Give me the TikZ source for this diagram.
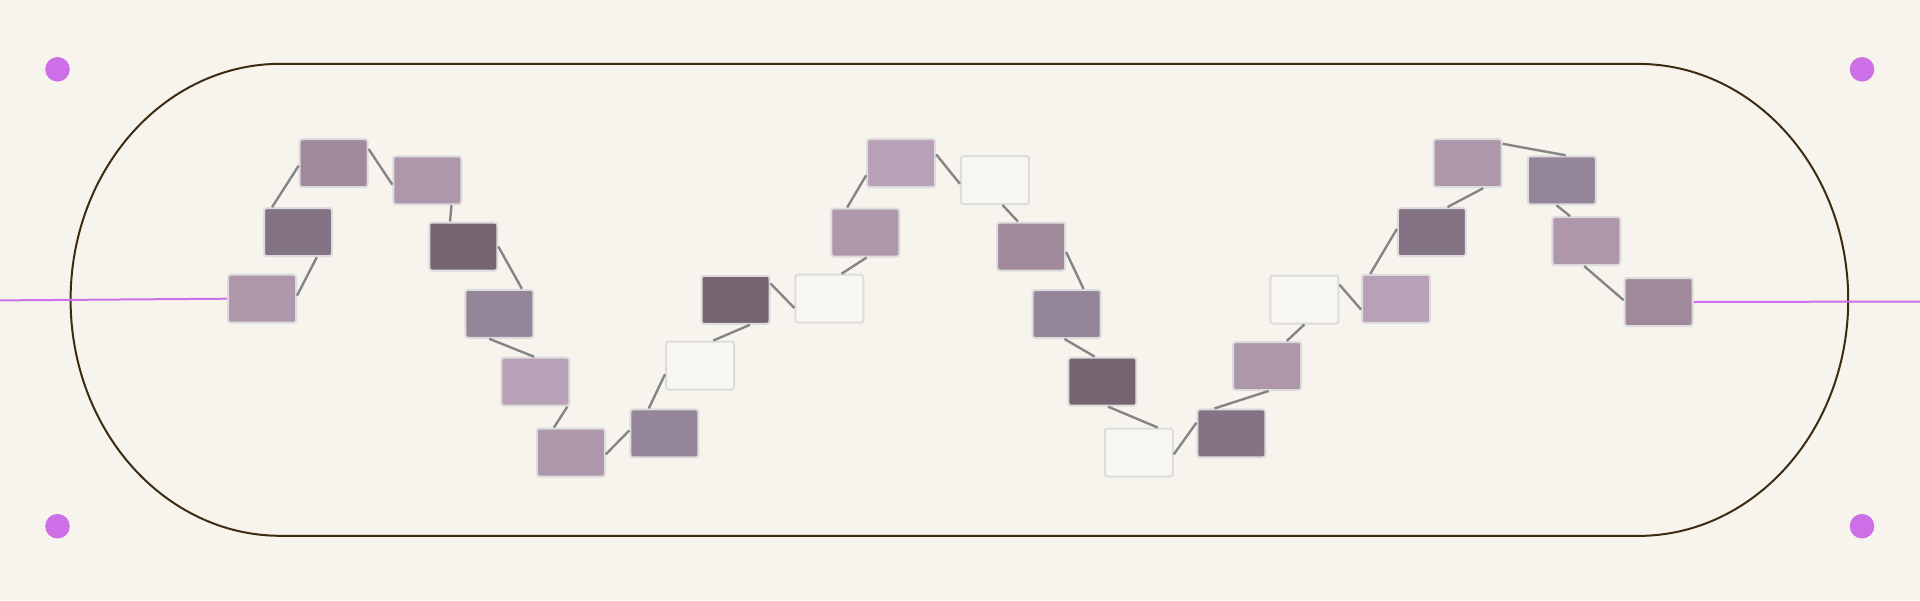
\documentclass[tikz,border=0pt]{standalone}
\usepackage{tikz}
\definecolor{bg}{HTML}{F7F4EE}
\definecolor{frame}{HTML}{3D2B12}
\definecolor{mag}{HTML}{CD6FE6}
\definecolor{conn}{HTML}{858585}
\definecolor{bord}{HTML}{DCDCDC}
\definecolor{ca}{HTML}{AE97AB}
\definecolor{cb}{HTML}{847385}
\definecolor{cc}{HTML}{9F899B}
\definecolor{cd}{HTML}{766570}
\definecolor{ce}{HTML}{958599}
\definecolor{cf}{HTML}{B8A0B7}
\definecolor{cw}{HTML}{F8F6F0}
\tikzset{
  box/.style={rectangle, draw=bord, line width=2pt, rounded corners=2.5pt, minimum width=68pt, minimum height=48pt, inner sep=0pt, fill=#1},
  link/.style={draw=conn, line width=2.4pt},
  magline/.style={draw=mag, line width=2pt},
  dot/.style={circle, fill=mag, minimum size=24.6pt, inner sep=0pt},
}
\begin{document}
\begin{tikzpicture}[x=1pt,y=-1pt]
\fill[bg] (0,0) rectangle (1920,600);
\useasboundingbox (0,0) rectangle (1920,600);
% frame
\draw[frame, line width=2pt] (280.6,63.9) -- (1638.2,63.9)
  arc[start angle=-90, end angle=90, x radius=210, y radius=236]
  -- (280.6,535.8)
  arc[start angle=90, end angle=270, x radius=210, y radius=236] -- cycle;
% dots
\node[dot] (d1) at (57.5,69.3) {};
\node[dot] (d2) at (57.5,526.2) {};
\node[dot] (d3) at (1862,69.3) {};
\node[dot] (d4) at (1862,526.2) {};
% boxes
\node[box=ca] (b1) at (262.0,298.7) {};
\node[box=cb] (b2) at (298.0,232.1) {};
\node[box=cc] (b3) at (333.7,163.2) {};
\node[box=ca] (b4) at (427.3,180.3) {};
\node[box=cd] (b5) at (463.3,246.5) {};
\node[box=ce] (b6) at (499.4,313.8) {};
\node[box=cf] (b7) at (535.3,381.7) {};
\node[box=ca] (b8) at (570.8,452.5) {};
\node[box=ce] (b9) at (664.4,433.4) {};
\node[box=cw] (b10) at (700.0,365.5) {};
\node[box=cd] (b11) at (735.5,299.8) {};
\node[box=cw] (b12) at (829.4,298.7) {};
\node[box=ca] (b13) at (865.3,232.5) {};
\node[box=cf] (b14) at (901.2,163.2) {};
\node[box=cw] (b15) at (994.9,180.1) {};
\node[box=cc] (b16) at (1031.2,246.5) {};
\node[box=ce] (b17) at (1066.7,314.0) {};
\node[box=cd] (b18) at (1102.4,381.7) {};
\node[box=cw] (b19) at (1138.8,452.5) {};
\node[box=cb] (b20) at (1231.4,433.4) {};
\node[box=ca] (b21) at (1267.2,366.0) {};
\node[box=cw] (b22) at (1304.4,299.5) {};
\node[box=cf] (b23) at (1396.1,298.9) {};
\node[box=cb] (b24) at (1431.8,232.1) {};
\node[box=ca] (b25) at (1467.6,163.2) {};
\node[box=ce] (b26) at (1561.8,180.3) {};
\node[box=ca] (b27) at (1586.3,241.1) {};
\node[box=cc] (b28) at (1658.6,302.0) {};
% end points of magenta line
\coordinate (mL) at (0,300.4);
\coordinate (mR) at (1920,301.5);
\draw[magline] (mL) -- (b1.west);
\draw[magline] (b28.east) -- (mR);
% links
\draw[link] (b1.5) -- (b2.-53);
\draw[link] (b2.136) -- (b3.-176);
\draw[link] (b3.22) -- (b4.-173);
\draw[link] (b4.-46) -- (b5.118);
\draw[link] (b5.0) -- (b6.48);
\draw[link] (b6.-112) -- (b7.93);
\draw[link] (b7.-38) -- (b8.124);
\draw[link] (b8.-3) -- (b9.175);
\draw[link] (b9.122) -- (b10.-166);
\draw[link] (b10.62) -- (b11.-60);
\draw[link] (b11.25) -- (b12.-165);
\draw[link] (b12.64) -- (b13.-87);
\draw[link] (b13.126) -- (b14.-161);
\draw[link] (b14.14) -- (b15.-174);
\draw[link] (b15.-73) -- (b16.118);
\draw[link] (b16.-9) -- (b17.56);
\draw[link] (b17.-95) -- (b18.107);
\draw[link] (b18.-77) -- (b19.53);
\draw[link] (b19.-3) -- (b20.163);
\draw[link] (b20.124) -- (b21.-87);
\draw[link] (b21.52) -- (b22.-90);
\draw[link] (b22.23) -- (b23.-163);
\draw[link] (b23.136) -- (b24.175);
\draw[link] (b24.58) -- (b25.-58);
\draw[link] (b25.29) -- (b26.81);
\draw[link] (b26.-102) -- (b27.123);
\draw[link] (b27.-95) -- (b28.177);
\end{tikzpicture}
\end{document}
